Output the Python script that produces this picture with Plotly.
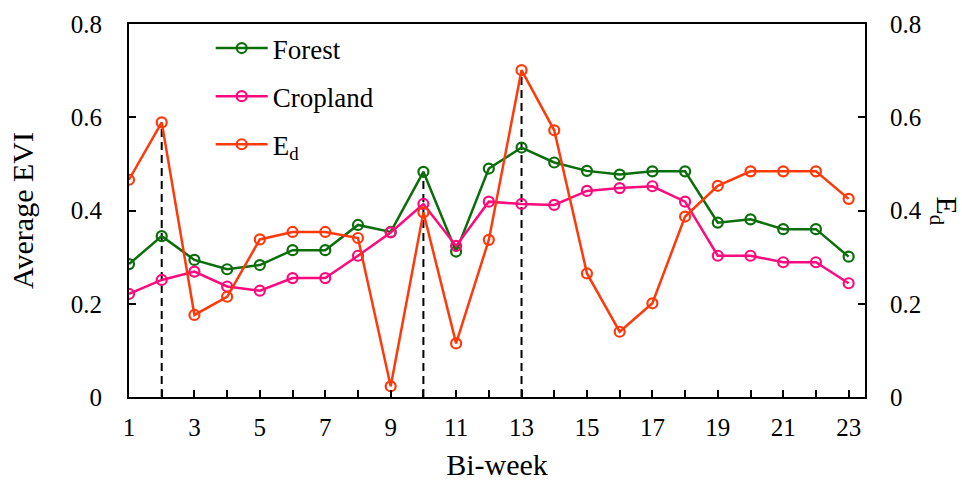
import plotly.graph_objects as go

weeks = list(range(1, 24))
forest = [0.285, 0.345, 0.294, 0.274, 0.283, 0.315, 0.315, 0.369, 0.354, 0.483, 0.312, 0.490,
          0.535, 0.503, 0.485, 0.477, 0.484, 0.484, 0.374, 0.381, 0.360, 0.360, 0.301]
cropland = [0.221, 0.251, 0.269, 0.237, 0.228, 0.255, 0.255, 0.303, 0.353, 0.414, 0.324, 0.419,
            0.414, 0.412, 0.442, 0.448, 0.452, 0.419, 0.303, 0.303, 0.289, 0.289, 0.244]
ed = [0.466, 0.589, 0.176, 0.215, 0.338, 0.354, 0.354, 0.341, 0.023, 0.396, 0.115, 0.337,
      0.701, 0.572, 0.265, 0.140, 0.201, 0.387, 0.453, 0.484, 0.484, 0.484, 0.425]
peak_weeks = [2, 10, 13]
x_tick_labels = [str(w) if w % 2 == 1 else "" for w in weeks]
y_ticks = [0, 0.2, 0.4, 0.6, 0.8]
y_tick_labels = ["0", "0.2", "0.4", "0.6", "0.8"]

FONT = "Liberation Serif"
GREEN = "#0a6e0a"
PINK = "#ff0a7c"
ORANGE = "#ff3a0a"

dash_x, dash_y = [], []
for w in peak_weeks:
    i = weeks.index(w)
    top = max(forest[i], cropland[i], ed[i])
    dash_x += [w, w, None]
    dash_y += [0, top, None]

fig = go.Figure()
fig.add_trace(go.Scatter(x=dash_x, y=dash_y, mode="lines", showlegend=False,
                         line=dict(color="black", width=2, dash="8px,5px"), hoverinfo="skip"))

def series(name, y, color, axis, group):
    return go.Scatter(x=weeks, y=y, name=name, mode="lines+markers", yaxis=axis,
                      legendgroup=group,
                      line=dict(color=color, width=2.5),
                      marker=dict(symbol="circle-open", size=10, color=color,
                                  line=dict(width=2.2, color=color)))

fig.add_trace(series("Forest", forest, GREEN, "y", "a"))
fig.add_trace(series("Cropland", cropland, PINK, "y", "b"))
fig.add_trace(series("E<sub>d</sub>", ed, ORANGE, "y2", "c"))

axis_common = dict(showgrid=False, zeroline=False, showline=True, linecolor="black",
                   linewidth=2, ticks="inside", ticklen=7, tickwidth=1.5, tickcolor="black",
                   automargin=False,
                   tickfont=dict(family=FONT, size=25, color="black"))

fig.update_layout(
    width=962, height=481,
    margin=dict(l=129, r=97, t=24, b=84),
    paper_bgcolor="white", plot_bgcolor="white",
    font=dict(family=FONT, color="black"),
    xaxis=dict(range=[1, 23.5], tickvals=weeks, ticktext=x_tick_labels, mirror=True,
               ticklabelstandoff=7,
               title=dict(text="Bi-week", font=dict(family=FONT, size=30), standoff=14),
               **axis_common),
    yaxis=dict(range=[0, 0.8], tickvals=y_ticks, ticktext=y_tick_labels,
               ticklabelstandoff=20,
               title=dict(text="Average EVI", font=dict(family=FONT, size=30), standoff=28),
               **axis_common),
    yaxis2=dict(range=[0, 0.8], tickvals=y_ticks, ticktext=y_tick_labels, overlaying="y",
                side="right", ticklabelstandoff=18, **axis_common),
    legend=dict(x=0.111, y=1.0, xanchor="left", yanchor="top", bgcolor="rgba(0,0,0,0)",
                font=dict(family=FONT, size=27), tracegroupgap=10, itemwidth=52),
    annotations=[dict(text="E<sub>d</sub>", textangle=90, xref="paper", yref="paper",
                      x=1.0, y=0.5, xshift=80, xanchor="center", yanchor="middle",
                      showarrow=False,
                      font=dict(family=FONT, size=30, color="black"))],
)

fig.write_html("out.html", config={"displayModeBar": False},
               post_script="document.body.style.margin='0';document.body.style.overflow='hidden';")
